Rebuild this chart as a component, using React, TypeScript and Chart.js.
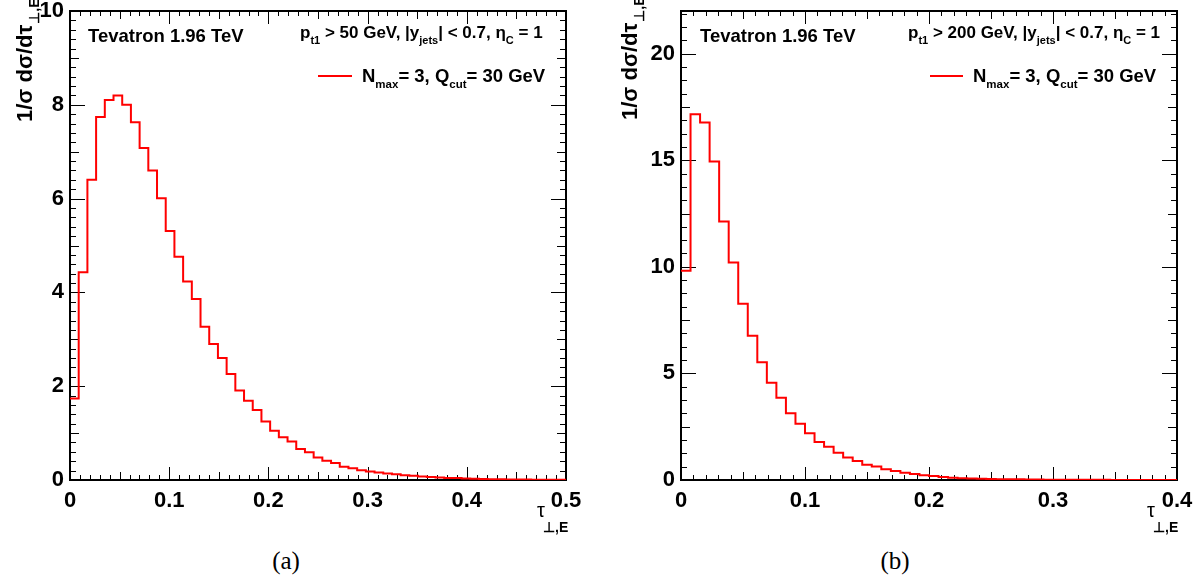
import React, { useEffect, useRef } from "react";
import { Chart, registerables } from "chart.js";

Chart.register(...registerables);

// ---------- DATA ----------
// (a) pt1 > 50 GeV : 57 bins on [0, 0.5]
const xMaxA = 0.5;
const binCountA = 57;
const valuesA = [
  1.74, 4.43, 6.4, 7.74, 8.1, 8.2, 8.0, 7.63, 7.08, 6.6,
  6.01, 5.31, 4.76, 4.23, 3.86, 3.27, 2.9, 2.6, 2.26, 1.91,
  1.69, 1.49, 1.25, 1.05, 0.91, 0.82, 0.66, 0.59, 0.48, 0.41,
  0.36, 0.28, 0.25, 0.21, 0.18, 0.16, 0.14, 0.12, 0.1, 0.09,
  0.075, 0.065, 0.055, 0.045, 0.04, 0.033, 0.027, 0.022, 0.018, 0.015,
  0.012, 0.01, 0.008, 0.007, 0.006, 0.005, 0.004,
];
const yMaxA = 10;

// (b) pt1 > 200 GeV : 52 bins on [0, 0.4]
const xMaxB = 0.4;
const binCountB = 52;
const valuesB = [
  9.81, 17.16, 16.77, 14.94, 12.13, 10.2, 8.27, 6.77, 5.52, 4.56,
  3.86, 3.13, 2.64, 2.19, 1.78, 1.56, 1.28, 1.05, 0.89, 0.72,
  0.63, 0.5, 0.42, 0.34, 0.28, 0.22, 0.19, 0.14, 0.11, 0.08,
  0.07, 0.06, 0.05, 0.04, 0.035, 0.03, 0.025, 0.02, 0.017, 0.014,
  0.012, 0.01, 0.008, 0.007, 0.006, 0.005, 0.004, 0.004, 0.003, 0.003,
  0.002, 0.002,
];
const yMaxB = 22;

// tick structure (major / medium / minor)
const xTicksMajor = 0.1;
const xTicksMedium = 0.05;
const xTicksMinor = 0.01;
const yTicksA = { major: 2, medium: 1, minor: 0.2 };
const yTicksB = { major: 5, medium: 2.5, minor: 0.625 };

// texts
const energyLabel = "Tevatron 1.96 TeV";
const cutsA = [
  { t: "p" }, { t: "t1", sub: true }, { t: " > 50 GeV, |y" }, { t: "jets", sub: true },
  { t: "| < 0.7, \u03b7" }, { t: "C", sub: true }, { t: " = 1" },
];
const cutsB = [
  { t: "p" }, { t: "t1", sub: true }, { t: " > 200 GeV, |y" }, { t: "jets", sub: true },
  { t: "| < 0.7, \u03b7" }, { t: "C", sub: true }, { t: " = 1" },
];
const legendText = [
  { t: "N" }, { t: "max", sub: true }, { t: "= 3, Q" }, { t: "cut", sub: true }, { t: "= 30 GeV" },
];
const seriesName = "N_max= 3, Q_cut= 30 GeV";

const FONT = "'Liberation Sans', Arial, Helvetica, sans-serif";

type Seg = { t: string; sub?: boolean };

function drawRich(
  ctx: CanvasRenderingContext2D,
  segs: Seg[],
  x: number,
  y: number,
  main: number,
  sub: number,
  subOff: number,
  weight = "bold"
) {
  let cx = x;
  ctx.textBaseline = "alphabetic";
  ctx.textAlign = "left";
  for (const s of segs) {
    ctx.font = `${weight} ${s.sub ? sub : main}px ${FONT}`;
    ctx.fillText(s.t, cx, y + (s.sub ? subOff : 0));
    cx += ctx.measureText(s.t).width;
  }
  return cx;
}

type Layout = {
  width: number;
  height: number;
  yAxisWidth: number;
  padRight: number;
  padTop: number;
  xAxisHeight: number;
  tev: [number, number];
  cuts: [number, number];
  legLine: [number, number, number];
  legText: [number, number];
  yTitle: [number, number];
  xTitle: [number, number];
};

function Hist(props: {
  values: number[];
  binCount: number;
  xMax: number;
  yMax: number;
  yTicks: { major: number; medium: number; minor: number };
  cuts: Seg[];
  lay: Layout;
}) {
  const ref = useRef<HTMLCanvasElement | null>(null);
  useEffect(() => {
    const { values, binCount, xMax, yMax, yTicks, cuts, lay } = props;
    const w = xMax / binCount;
    const pts = values.map((v, i) => ({ x: i * w, y: v }));
    pts.push({ x: values.length * w, y: values[values.length - 1] });

    const isMult = (v: number, s: number) => Math.abs(v / s - Math.round(v / s)) < 1e-6;

    const deco = {
      id: "deco",
      beforeDatasetsDraw(chart: any) {
        const ctx: CanvasRenderingContext2D = chart.ctx;
        const a = chart.chartArea;
        const xs = chart.scales.x;
        const ys = chart.scales.y;
        ctx.save();
        ctx.strokeStyle = "#000";
        ctx.lineWidth = 1;
        ctx.beginPath();
        const nx = Math.floor(xMax / xTicksMinor + 1e-6);
        for (let i = 0; i <= nx; i++) {
          const v = i * xTicksMinor;
          const px = Math.round(xs.getPixelForValue(v)) + 0.5;
          let len = 5;
          if (isMult(v, xTicksMajor)) len = 13;
          else if (isMult(v, xTicksMedium)) len = 8;
          ctx.moveTo(px, a.bottom);
          ctx.lineTo(px, a.bottom - len);
          ctx.moveTo(px, a.top);
          ctx.lineTo(px, a.top + len);
        }
        const ny = Math.floor(yMax / yTicks.minor + 1e-6);
        for (let i = 0; i <= ny; i++) {
          const v = i * yTicks.minor;
          const py = Math.round(ys.getPixelForValue(v)) + 0.5;
          let len = 6;
          if (isMult(v, yTicks.major)) len = 15;
          else if (isMult(v, yTicks.medium)) len = 9;
          ctx.moveTo(a.left, py);
          ctx.lineTo(a.left + len, py);
          ctx.moveTo(a.right, py);
          ctx.lineTo(a.right - len, py);
        }
        ctx.stroke();
        ctx.lineWidth = 2;
        ctx.strokeRect(a.left, a.top, a.right - a.left, a.bottom - a.top);
        ctx.restore();
      },
      afterDraw(chart: any) {
        const ctx: CanvasRenderingContext2D = chart.ctx;
        ctx.save();
        ctx.fillStyle = "#000";
        ctx.font = `bold 18.5px ${FONT}`;
        ctx.textBaseline = "alphabetic";
        ctx.fillText(energyLabel, lay.tev[0], lay.tev[1]);
        drawRich(ctx, cuts, lay.cuts[0], lay.cuts[1], 17, 11, 6);
        ctx.strokeStyle = "rgb(255,0,0)";
        ctx.lineWidth = 2;
        ctx.beginPath();
        ctx.moveTo(lay.legLine[0], lay.legLine[2]);
        ctx.lineTo(lay.legLine[1], lay.legLine[2]);
        ctx.stroke();
        drawRich(ctx, legendText, lay.legText[0], lay.legText[1], 18.5, 11.5, 6);
        ctx.save();
        ctx.translate(lay.yTitle[0], lay.yTitle[1]);
        ctx.rotate(-Math.PI / 2);
        const end = drawRich(ctx, [{ t: "1/\u03c3 d\u03c3/d\u03c4" }], 0, 0, 22, 14, 7);
        drawRich(ctx, [{ t: "\u22a5,E", sub: true }], end + 1, 0, 22, 14, 7);
        ctx.restore();
        ctx.font = `20px ${FONT}`;
        ctx.fillText("\u03c4", lay.xTitle[0], lay.xTitle[1]);
        drawRich(ctx, [{ t: "\u22a5,E", sub: true }], lay.xTitle[0] + 6, lay.xTitle[1], 20, 14, 15);
        ctx.restore();
      },
    };

    const chart = new Chart(ref.current as HTMLCanvasElement, {
      type: "line",
      data: {
        datasets: [
          {
            label: seriesName,
            data: pts,
            stepped: "before",
            borderColor: "rgb(255,0,0)",
            borderWidth: 2,
            pointRadius: 0,
            fill: false,
            tension: 0,
          },
        ],
      },
      options: {
        animation: false,
        responsive: false,
        maintainAspectRatio: false,
        layout: { padding: { left: 0, top: lay.padTop, right: lay.padRight, bottom: 0 } },
        plugins: { legend: { display: false }, tooltip: { enabled: false } },
        scales: {
          x: {
            type: "linear",
            min: 0,
            max: xMax,
            grid: { display: false, drawTicks: false },
            border: { display: false },
            ticks: {
              stepSize: xTicksMajor,
              color: "#000",
              padding: 8,
              maxRotation: 0,
              autoSkip: false,
              font: { family: FONT, size: 22, weight: "bold" },
              callback: (v: any) => (isMult(Number(v), xTicksMajor) ? String(Math.round(Number(v) * 10) / 10) : ""),
            },
            afterFit: (s: any) => {
              s.height = lay.xAxisHeight;
              s.paddingLeft = 0;
              s.paddingRight = 0;
            },
          },
          y: {
            type: "linear",
            min: 0,
            max: yMax,
            grid: { display: false, drawTicks: false },
            border: { display: false },
            ticks: {
              stepSize: yTicks.major,
              color: "#000",
              padding: 6,
              autoSkip: false,
              font: { family: FONT, size: 22, weight: "bold" },
              callback: (v: any) => (isMult(Number(v), yTicks.major) ? String(Number(v)) : ""),
            },
            afterFit: (s: any) => {
              s.width = lay.yAxisWidth;
              s.paddingTop = 0;
              s.paddingBottom = 0;
            },
          },
        },
      },
      plugins: [deco],
    } as any);
    return () => chart.destroy();
  }, []);
  return (
    <canvas
      ref={ref}
      width={props.lay.width}
      height={props.lay.height}
      style={{ width: props.lay.width, height: props.lay.height, display: "block" }}
    />
  );
}

const layoutA: Layout = {
  width: 600,
  height: 540,
  yAxisWidth: 70,
  padRight: 34,
  padTop: 11,
  xAxisHeight: 60,
  tev: [88, 42],
  cuts: [300, 38],
  legLine: [318, 352, 76],
  legText: [362, 82],
  yTitle: [32, 122],
  xTitle: [537, 517],
};

const layoutB: Layout = {
  width: 600,
  height: 540,
  yAxisWidth: 81,
  padRight: 23,
  padTop: 11,
  xAxisHeight: 60,
  tev: [100, 42],
  cuts: [308, 38],
  legLine: [330, 363, 76],
  legText: [373, 82],
  yTitle: [37, 120],
  xTitle: [547, 517],
};

export default function App() {
  const cap: React.CSSProperties = {
    position: "absolute",
    top: 546,
    width: 80,
    textAlign: "center",
    fontFamily: "'Liberation Serif', 'Times New Roman', serif",
    fontSize: 25,
    lineHeight: "30px",
    color: "#000",
  };
  return (
    <div style={{ position: "absolute", left: 0, top: 0, width: 1200, height: 579, background: "#fff", overflow: "hidden" }}>
      <div style={{ position: "absolute", left: 0, top: 0 }}>
        <Hist values={valuesA} binCount={binCountA} xMax={xMaxA} yMax={yMaxA} yTicks={yTicksA} cuts={cutsA} lay={layoutA} />
      </div>
      <div style={{ position: "absolute", left: 600, top: 0 }}>
        <Hist values={valuesB} binCount={binCountB} xMax={xMaxB} yMax={yMaxB} yTicks={yTicksB} cuts={cutsB} lay={layoutB} />
      </div>
      <div style={{ ...cap, left: 246 }}>(a)</div>
      <div style={{ ...cap, left: 855 }}>(b)</div>
    </div>
  );
}
